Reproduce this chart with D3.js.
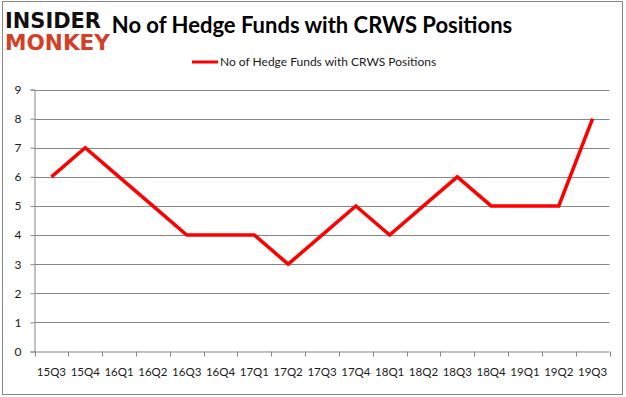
<!DOCTYPE html>
<html>
<head>
<meta charset="utf-8">
<script src="https://cdn.jsdelivr.net/npm/d3@7"></script>
<style>
  body { margin: 0; background: #fff; }
</style>
</head>
<body>
<svg id="chart" width="626" height="397" font-family="Lato, 'Open Sans', sans-serif"></svg>
<script>
var quarters = ["15Q3", "15Q4", "16Q1", "16Q2", "16Q3", "16Q4", "17Q1", "17Q2", "17Q3",
  "17Q4", "18Q1", "18Q2", "18Q3", "18Q4", "19Q1", "19Q2", "19Q3"];
var hedgeFunds = [6, 7, 6, 5, 4, 4, 4, 3, 4, 5, 4, 5, 6, 5, 5, 5, 8];
var yTicks = [0, 1, 2, 3, 4, 5, 6, 7, 8, 9];
var seriesName = "No of Hedge Funds with CRWS Positions";
var chartTitle = "No of Hedge Funds with CRWS Positions";

var svg = d3.select("#chart");
var plotLeft = 34.5, plotRight = 609.5, plotTop = 89.5, plotBottom = 351.5;

// outer frame
svg.append("rect")
  .attr("x", 2.5).attr("y", 1.5)
  .attr("width", 620).attr("height", 393)
  .attr("fill", "none").attr("stroke", "#868686");

// logo
svg.append("text")
  .attr("x", 5).attr("y", 28)
  .attr("font-family", "DejaVu Sans").attr("font-weight", "bold")
  .attr("font-size", 21).attr("fill", "#111")
  .attr("textLength", 96).attr("lengthAdjust", "spacingAndGlyphs")
  .text("INSIDER");
svg.append("text")
  .attr("x", 5).attr("y", 50)
  .attr("font-family", "DejaVu Sans").attr("font-weight", "bold")
  .attr("font-size", 21).attr("fill", "#d33f27")
  .attr("textLength", 105).attr("lengthAdjust", "spacingAndGlyphs")
  .text("MONKEY");

svg.append("text")
  .attr("x", 312).attr("y", 33)
  .attr("text-anchor", "middle")
  .attr("font-weight", "bold").attr("font-size", 22)
  .attr("fill", "#000")
  .text(chartTitle);

var x = d3.scaleBand().domain(quarters).range([plotLeft, plotRight]);
var y = d3.scaleLinear().domain([0, 9]).range([plotBottom, plotTop]);

// gridlines
svg.append("g").selectAll("line")
  .data(yTicks.slice(1))
  .join("line")
  .attr("x1", plotLeft).attr("x2", plotRight)
  .attr("y1", function(d) { return Math.round(y(d)) + 0.5; })
  .attr("y2", function(d) { return Math.round(y(d)) + 0.5; })
  .attr("stroke", "#868686");

var yAxis = svg.append("g")
  .attr("transform", "translate(" + plotLeft + ",0)")
  .call(d3.axisLeft(y).tickValues(yTicks).tickSize(4).tickPadding(9));
var xAxis = svg.append("g")
  .attr("transform", "translate(0," + plotBottom + ")")
  .call(d3.axisBottom(x).tickSize(0).tickPadding(16));

// boundary ticks between categories
var bounds = quarters.map(function(q) { return x(q); }).concat([plotRight]);
xAxis.selectAll(".bound")
  .data(bounds)
  .join("line")
  .attr("class", "bound")
  .attr("x1", function(d) { return Math.round(d) + 0.5; })
  .attr("x2", function(d) { return Math.round(d) + 0.5; })
  .attr("y1", 0).attr("y2", 5)
  .attr("stroke", "#868686");

[yAxis, xAxis].forEach(function(a) {
  a.select(".domain").attr("stroke", "#868686");
  a.selectAll(".tick line").attr("stroke", "#868686");
  a.selectAll("text").attr("fill", "#1a1a1a")
    .attr("font-family", "Lato, 'Open Sans', sans-serif");
});
yAxis.selectAll("text").attr("font-size", 12);
xAxis.selectAll("text").attr("font-size", 11.5);
xAxis.select(".domain").attr("d", "M" + plotLeft + ",0.5H" + plotRight);

var line = d3.line()
  .x(function(d, i) { return x(quarters[i]) + x.bandwidth() / 2; })
  .y(function(d) { return y(d); });

svg.append("path")
  .datum(hedgeFunds)
  .attr("d", line)
  .attr("fill", "none")
  .attr("stroke", "#ff0000")
  .attr("stroke-width", 3.5);

// legend
svg.append("line")
  .attr("x1", 192).attr("x2", 218)
  .attr("y1", 62).attr("y2", 62)
  .attr("stroke", "#ff0000").attr("stroke-width", 3);
svg.append("text")
  .attr("x", 220).attr("y", 66)
  .attr("font-size", 12).attr("fill", "#1a1a1a")
  .text(seriesName);
</script>
</body>
</html>
